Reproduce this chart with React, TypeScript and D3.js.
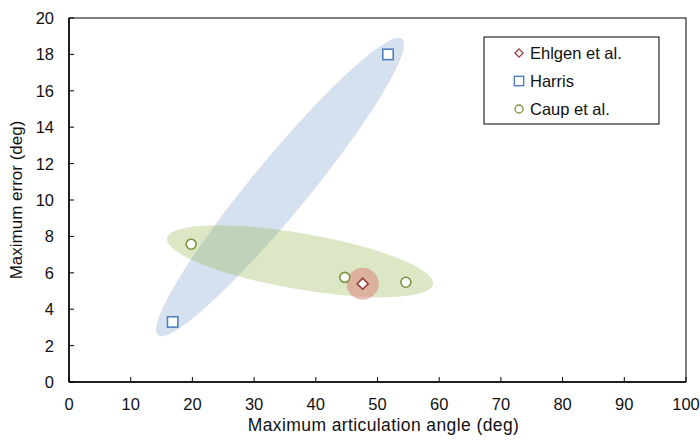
import React from 'react';
import * as d3 from 'd3';

// series values
const ehlgenX = [47.6];
const ehlgenY = [5.4];
const harrisX = [16.8, 51.7];
const harrisY = [3.3, 18];
const caupX = [19.8, 44.7, 54.6];
const caupY = [7.57, 5.75, 5.48];

const legendLabels = ['Ehlgen et al.', 'Harris', 'Caup et al.'];
const xTicks = [0, 10, 20, 30, 40, 50, 60, 70, 80, 90, 100];
const yTicks = [0, 2, 4, 6, 8, 10, 12, 14, 16, 18, 20];

// cluster highlight ellipses: ends in data units
const harrisBlobEnds = [[14.4, 2.57], [54.0, 18.85]];
const caupBlobEnds = [[15.9, 7.9], [59.0, 5.37]];

const W = 700;
const H = 443;
const margin = { left: 69, right: 14, top: 18, bottom: 61 };

const FONT = '"Liberation Sans", Arial, sans-serif';
const RED = '#953735';
const BLUE = '#4F81BD';
const GREEN = '#77933C';

const x = d3.scaleLinear().domain([0, 100]).range([margin.left, W - margin.right]);
const y = d3.scaleLinear().domain([0, 20]).range([H - margin.bottom, margin.top]);

function Blob({ ends, halfWidth, fill }: { ends: number[][]; halfWidth: number; fill: string }) {
  const x1 = x(ends[0][0]), y1 = y(ends[0][1]);
  const x2 = x(ends[1][0]), y2 = y(ends[1][1]);
  const cx = (x1 + x2) / 2, cy = (y1 + y2) / 2;
  const rx = Math.hypot(x2 - x1, y2 - y1) / 2;
  const ang = (Math.atan2(y2 - y1, x2 - x1) * 180) / Math.PI;
  return <ellipse cx={cx} cy={cy} rx={rx} ry={halfWidth} fill={fill} transform={`rotate(${ang},${cx},${cy})`} />;
}

const Diamond = ({ cx, cy }: { cx: number; cy: number }) => (
  <path d={`M${cx},${cy - 5.5}L${cx + 5.5},${cy}L${cx},${cy + 5.5}L${cx - 5.5},${cy}Z`} fill="white" stroke={RED} strokeWidth={1.6} />
);
const Square = ({ cx, cy }: { cx: number; cy: number }) => (
  <rect x={cx - 5.2} y={cy - 5.2} width={10.4} height={10.4} fill="white" stroke={BLUE} strokeWidth={1.6} />
);
const Circle = ({ cx, cy }: { cx: number; cy: number }) => (
  <circle cx={cx} cy={cy} r={5} fill="white" stroke={GREEN} strokeWidth={1.6} />
);

export default function App() {
  const x0 = margin.left, x1 = W - margin.right;
  const y0 = H - margin.bottom, y1 = margin.top;
  const legendX = 484, legendY = 37;
  const markers = [Diamond, Square, Circle];
  const markerScale = [0.75, 0.9, 0.8];

  return (
    <svg width={W} height={H} style={{ position: 'absolute', left: 0, top: 0, fontFamily: FONT }}>
      <rect width={W} height={H} fill="white" />

      {/* highlight shapes */}
      <Blob ends={harrisBlobEnds} halfWidth={28} fill="rgba(79,129,189,0.24)" />
      <Blob ends={caupBlobEnds} halfWidth={28} fill="rgba(155,187,89,0.35)" />
      {ehlgenX.map((v, i) => (
        <circle key={i} cx={x(v)} cy={y(ehlgenY[i])} r={16} fill="rgba(217,110,110,0.45)" />
      ))}

      {/* frame */}
      <rect x={x0} y={y1} width={x1 - x0} height={y0 - y1} fill="none" stroke="black" strokeWidth={1} />
      <line x1={x0} x2={x1} y1={y0} y2={y0} stroke="black" strokeWidth={1.5} />
      <line x1={x0} x2={x0} y1={y0} y2={y1} stroke="black" strokeWidth={1.5} />

      {xTicks.map((t) => (
        <g key={t}>
          <line x1={x(t)} x2={x(t)} y1={y0} y2={y0 - 5} stroke="black" />
          <text x={x(t)} y={y0 + 27.5} textAnchor="middle" fontSize={16.5} fill="#111">{t}</text>
        </g>
      ))}
      {yTicks.map((t) => (
        <g key={t}>
          <line x1={x0} x2={x0 + 5} y1={y(t)} y2={y(t)} stroke="black" />
          <text x={x0 - 15} y={y(t) + 6} textAnchor="end" fontSize={16.5} fill="#111">{t}</text>
        </g>
      ))}

      <text x={(x0 + x1) / 2 + 6} y={431} textAnchor="middle" fontSize={17.5} letterSpacing={0.4} fill="#111">Maximum articulation angle (deg)</text>
      <text transform={`translate(22,${(y0 + y1) / 2}) rotate(-90)`} textAnchor="middle" fontSize={17} fill="#111">Maximum error (deg)</text>

      {/* points */}
      {harrisX.map((v, i) => <Square key={'h' + i} cx={x(v)} cy={y(harrisY[i])} />)}
      {caupX.map((v, i) => <Circle key={'c' + i} cx={x(v)} cy={y(caupY[i])} />)}
      {ehlgenX.map((v, i) => <Diamond key={'e' + i} cx={x(v)} cy={y(ehlgenY[i])} />)}

      {/* legend */}
      <rect x={legendX} y={legendY} width={175} height={87} fill="white" stroke="black" strokeWidth={1} />
      {legendLabels.map((label, i) => {
        const M = markers[i];
        const ly = legendY + 16 + i * 28;
        const mx = legendX + 35;
        return (
          <g key={label}>
            <g transform={`translate(${mx},${ly}) scale(${markerScale[i]}) translate(${-mx},${-ly})`}>
              <M cx={mx} cy={ly} />
            </g>
            <text x={legendX + 46} y={ly + 6} fontSize={16.5} fill="#111">{label}</text>
          </g>
        );
      })}
    </svg>
  );
}
